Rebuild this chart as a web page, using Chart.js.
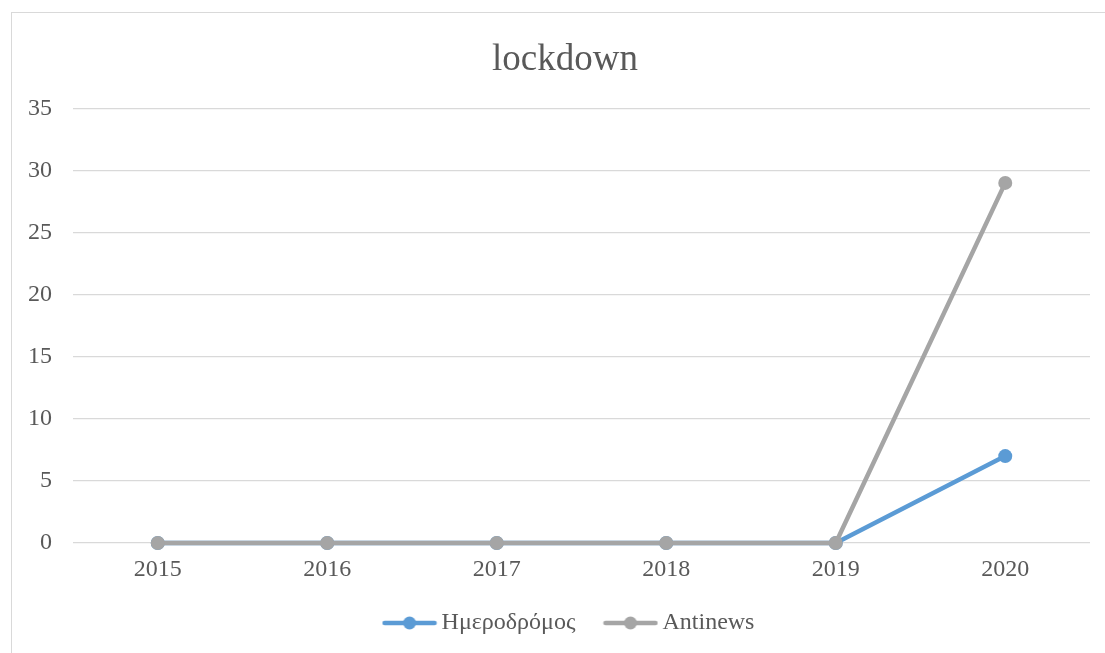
<!DOCTYPE html>
<html>
<head>
<meta charset="utf-8">
<script src="https://cdn.jsdelivr.net/npm/chart.js@4"></script>
<style>
  html, body { margin: 0; padding: 0; background: #fff; overflow: hidden; }
  #frame { position: absolute; left: 11px; top: 12px; width: 1110px; height: 660px;
           border: 1px solid #d9d9d9; box-sizing: border-box; }
  #wrap { position: absolute; left: 0; top: 0; width: 1105px; height: 653px; }
</style>
</head>
<body>
<div id="frame"></div>
<div id="wrap"><canvas id="diagram"></canvas></div>
<script>
// chart data
var years = ['2015', '2016', '2017', '2018', '2019', '2020'];
var imerodromos = [0, 0, 0, 0, 0, 7];
var antinews = [0, 0, 0, 0, 0, 29];
var seriesNames = ['Ημεροδρόμος', 'Antinews'];
var seriesColors = ['#5B9BD5', '#A5A5A5'];

var font = "'Liberation Serif', 'Times New Roman', serif";
var textColor = '#595959';

// legend marker: short line with a dot in the middle
function legendMarker(color) {
  var c = document.createElement('canvas');
  c.width = 56; c.height = 16;
  var g = c.getContext('2d');
  g.strokeStyle = color;
  g.lineWidth = 4.5;
  g.lineCap = 'round';
  g.beginPath(); g.moveTo(3, 8); g.lineTo(53, 8); g.stroke();
  g.fillStyle = color;
  g.beginPath(); g.arc(28, 8, 6.5, 0, Math.PI * 2); g.fill();
  return c;
}

// the frame is a bit wider than the page, so title and legend sit right of centre
var shiftBlocks = {
  id: 'shiftBlocks',
  afterLayout: function (chart) {
    chart.titleBlock.left += 10;
    chart.titleBlock.right += 10;
    chart.legend.left += 17;
    chart.legend.right += 17;
  }
};

var ctx = document.getElementById('diagram').getContext('2d');
var diagram = new Chart(ctx, {
  type: 'line',
  data: {
    labels: years,
    datasets: [{
      label: seriesNames[0],
      data: imerodromos,
      borderColor: seriesColors[0],
      backgroundColor: seriesColors[0],
      borderWidth: 4.5,
      pointRadius: 7,
      pointBorderWidth: 0,
      clip: false,
      order: 1
    }, {
      label: seriesNames[1],
      data: antinews,
      borderColor: seriesColors[1],
      backgroundColor: seriesColors[1],
      borderWidth: 4.5,
      pointRadius: 7,
      pointBorderWidth: 0,
      clip: false,
      order: 0
    }]
  },
  plugins: [shiftBlocks],
  options: {
    responsive: true,
    maintainAspectRatio: false,
    animation: false,
    layout: { padding: { left: 20, right: 15, top: 0, bottom: 8 } },
    scales: {
      x: {
        offset: true,
        grid: { display: false },
        border: { display: false },
        ticks: { color: textColor, font: { family: font, size: 24 }, padding: 4 },
        afterFit: function (scale) { scale.height = 33; }
      },
      y: {
        min: 0,
        max: 35,
        ticks: { stepSize: 5, color: textColor, font: { family: font, size: 24 }, padding: 21 },
        grid: { color: '#d9d9d9', lineWidth: 1.3, drawTicks: false },
        border: { display: false },
        afterFit: function (scale) { scale.width = 53; }
      }
    },
    plugins: {
      title: {
        display: true,
        text: 'lockdown',
        color: textColor,
        font: { family: font, size: 37, weight: 'normal' },
        padding: { top: 38, bottom: 26 }
      },
      legend: {
        position: 'bottom',
        labels: {
          color: textColor,
          font: { family: font, size: 24 },
          usePointStyle: true,
          pointStyleWidth: 40,
          boxHeight: 16,
          padding: 35,
          generateLabels: function (chart) {
            return chart.data.datasets.map(function (ds, i) {
              return {
                text: ds.label,
                pointStyle: legendMarker(seriesColors[i]),
                fontColor: textColor,
                strokeStyle: seriesColors[i],
                fillStyle: seriesColors[i],
                lineWidth: 0,
                datasetIndex: i
              };
            });
          }
        }
      },
      tooltip: { enabled: false }
    }
  }
});
</script>
</body>
</html>
